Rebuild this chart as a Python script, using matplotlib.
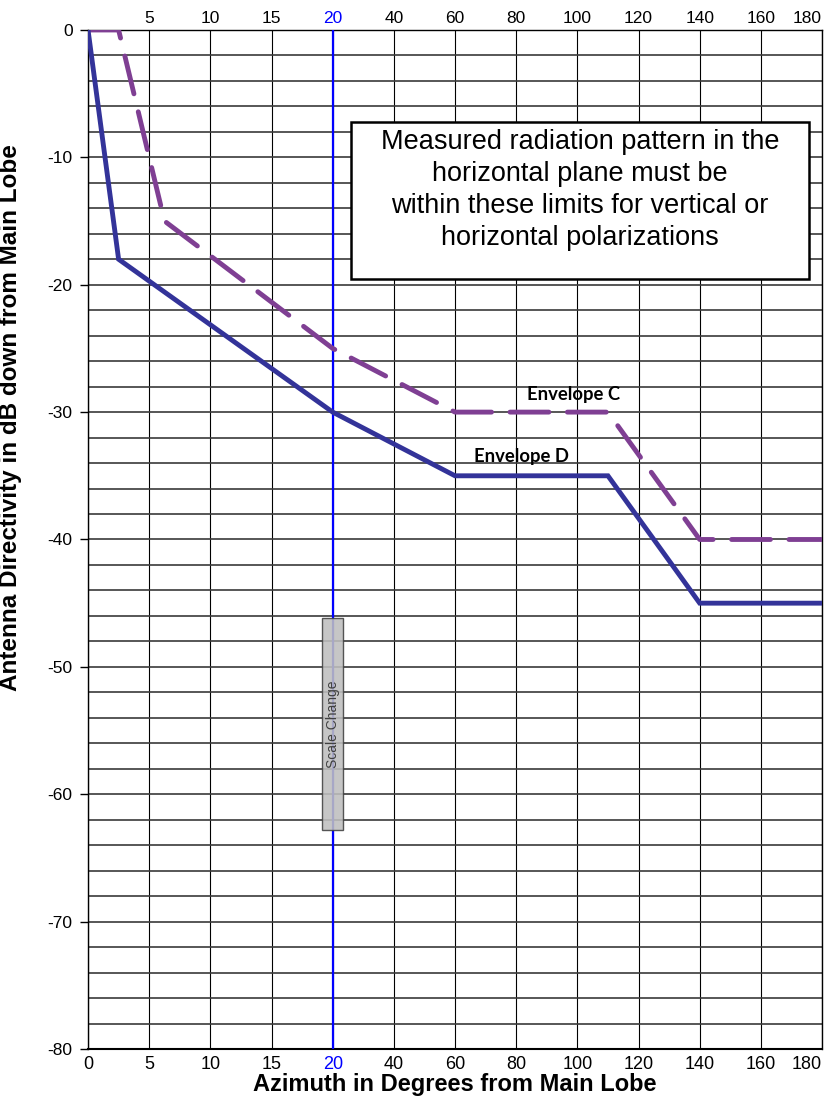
import numpy as np
import matplotlib
matplotlib.use("Agg")
import matplotlib.pyplot as plt
from matplotlib.patches import Rectangle

plt.rcParams['font.family'] = ['Liberation Sans', 'DejaVu Sans']
plt.rcParams['axes.unicode_minus'] = False

# envelope data: azimuth (deg) and directivity (dB)
env_d_az = [0, 2.5, 20, 60, 110, 140, 180]
env_d_db = [0, -18, -30, -35, -35, -45, -45]

env_c_az = [0, 2.5, 6.25, 20, 60, 110, 140, 180]
env_c_db = [0, 0, -15, -25, -30, -30, -40, -40]

x_ticks = [0, 5, 10, 15, 20, 40, 60, 80, 100, 120, 140, 160, 180]
top_ticks = [5, 10, 15, 20, 40, 60, 80, 100, 120, 140, 160, 180]
y_ticks = [0, -10, -20, -30, -40, -50, -60, -70, -80]

box_text = ("Measured radiation pattern in the\n"
            "horizontal plane must be\n"
            "within these limits for vertical or\n"
            "horizontal polarizations")


# scale change at 20 deg: 0-20 linear, 20-180 compressed 4x
def fwd(x):
    x = np.asarray(x, dtype=float)
    return np.where(x <= 20, x, 20 + (x - 20) / 4.0)


def inv(p):
    p = np.asarray(p, dtype=float)
    return np.where(p <= 20, p, 20 + (p - 20) * 4.0)


fig = plt.figure(figsize=(8.25, 11.02), dpi=100)
ax = fig.add_axes([0.1067, 0.0481, 0.8897, 0.9247])
ax.set_xscale('function', functions=(fwd, inv))
ax.set_xlim(0, 180)
ax.set_ylim(-80, 0)

# grid
ax.set_xticks(x_ticks)
ax.set_yticks(y_ticks)
ax.set_yticks(np.arange(-80, 1, 2), minor=True)
ax.grid(True, which='major', axis='x', color='black', lw=0.8, zorder=1)
ax.grid(True, which='both', axis='y', color='#3a3a3a', lw=1.2, zorder=1)
ax.set_axisbelow(True)

ax.tick_params(axis='y', which='major', direction='out', length=6, width=1,
               labelsize=12.5, pad=5)
ax.tick_params(axis='y', which='minor', length=0)
ax.tick_params(axis='x', which='both', length=0, pad=5)

ax.set_xticklabels([str(t) for t in x_ticks], fontsize=13)
labs = ax.get_xticklabels()
labs[-1].set_horizontalalignment('right')
for t, lab in zip(x_ticks, labs):
    if t == 20:
        lab.set_color('blue')

for sp in ax.spines.values():
    sp.set_color('black')
    sp.set_linewidth(1.0)
ax.spines['bottom'].set_linewidth(1.5)

# top axis
ax2 = ax.twiny()
ax2.set_xscale('function', functions=(fwd, inv))
ax2.set_xlim(0, 180)
ax2.set_xticks(top_ticks)
ax2.set_xticklabels([str(t) for t in top_ticks], fontsize=12.5)
ax2.tick_params(axis='x', length=0, pad=3)
tlabs = ax2.get_xticklabels()
tlabs[-1].set_horizontalalignment('right')
for t, lab in zip(top_ticks, tlabs):
    if t == 20:
        lab.set_color('blue')
for sp in ax2.spines.values():
    sp.set_visible(False)

# scale change line
ax.axvline(20, color='blue', lw=1.6, zorder=3)

# envelopes
ax.plot(env_c_az, env_c_db, color='#7f3f93', lw=3.5, dashes=(8, 3.8),
        dash_capstyle='round', solid_capstyle='round', zorder=4)
ax.plot(env_d_az, env_d_db, color='#333399', lw=3.5,
        solid_joinstyle='miter', zorder=5)

lbl_font = ['Lato', 'Liberation Sans']
ax.text(98.7, -28.6, "Envelope C", fontsize=13.3, fontweight='bold',
        family=lbl_font, ha='center', va='center', zorder=6)
ax.text(81.6, -33.5, "Envelope D", fontsize=13.3, fontweight='bold',
        family=lbl_font, ha='center', va='center', zorder=6)

# scale change marker (box about 1.7 scaled units wide around 20 deg)
sc_left = float(inv(fwd(20) - 0.85))
sc_right = float(inv(fwd(20) + 0.85))
ax.add_patch(Rectangle((sc_left, -62.8), sc_right - sc_left, 16.6,
                       facecolor='#bfbfbf', edgecolor='#404040', lw=1.0,
                       alpha=0.88, zorder=6))
ax.text(20, -54.5, "Scale Change", rotation=90, fontsize=10, color='#404040',
        ha='center', va='center', zorder=7)

# note box
ax.add_patch(Rectangle((0.358, 0.7556), 0.624, 0.1541, transform=ax.transAxes,
                       facecolor='white', edgecolor='black', lw=1.8, zorder=8))
ax.text(0.67, 0.843, box_text, transform=ax.transAxes, fontsize=19.5,
        ha='center', va='center', linespacing=1.3, zorder=9)

ax.set_xlabel("Azimuth in Degrees from Main Lobe", fontsize=17,
              fontweight='bold', labelpad=0)
ax.set_ylabel("Antenna Directivity in dB down from Main Lobe", fontsize=17.5,
              fontweight='bold')
ax.yaxis.set_label_coords(-0.09, 0.62)

fig.savefig("out.png", dpi=100)
